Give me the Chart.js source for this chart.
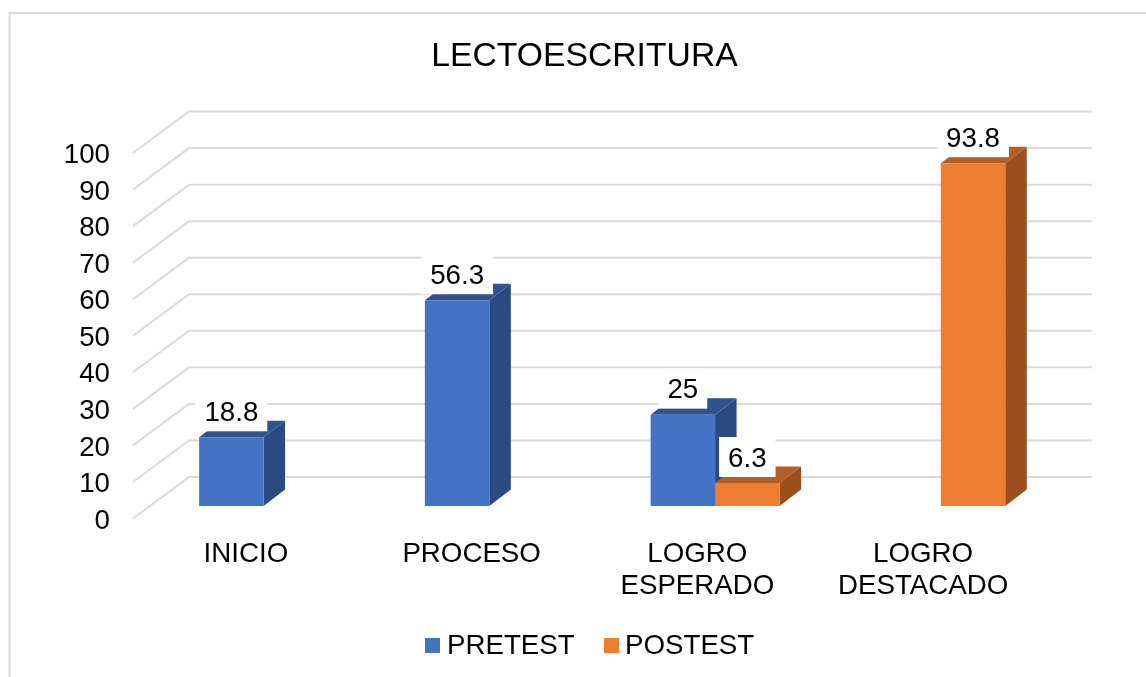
<!DOCTYPE html>
<html>
<head>
<meta charset="utf-8">
<title>LECTOESCRITURA</title>
<script src="https://cdn.jsdelivr.net/npm/chart.js@4"></script>
<style>
  html, body { margin: 0; padding: 0; background: #fff; overflow: hidden; }
  canvas { display: block; }
</style>
</head>
<body>
<canvas id="grafico" width="1146" height="677"></canvas>
<script>
// ====== Datos ======
const categorias = ['INICIO', 'PROCESO', ['LOGRO', 'ESPERADO'], ['LOGRO', 'DESTACADO']];
const pretest = [18.8, 56.3, 25, null];
const postest = [null, null, 6.3, 93.8];

const fuente = '"Liberation Sans", Arial, sans-serif';
const colorGrid = '#dadada';

// colores de cada serie: frente, tapa, lado
const azul = { frente: '#4472c4', tapa: '#30538f', lado: '#2a4a82' };
const naranja = { frente: '#ed7d31', tapa: '#b35e24', lado: '#9a4f1c' };

// ====== Efecto 3D ======
const pared = { dx: 56, dy: -41.5 };   // del plano frontal a la pared del fondo
const corrimiento = { dx: 17.7, dy: -12.5 }; // las barras van a media profundidad
const fondoBarra = { dx: 21.5, dy: -16.5 };

const efecto3d = {
    id: 'efecto3d',
    beforeDraw(chart) {
        const ctx = chart.ctx;
        ctx.save();
        ctx.strokeStyle = colorGrid;
        ctx.lineWidth = 2;
        ctx.beginPath();
        ctx.moveTo(9.5, 677);
        ctx.lineTo(9.5, 13);
        ctx.lineTo(1146, 13);
        ctx.stroke();
        ctx.restore();
    },
    beforeDatasetsDraw(chart) {
        // lineas de la pared, salen de los ticks del eje
        const { ctx, chartArea, scales } = chart;
        ctx.save();
        ctx.strokeStyle = colorGrid;
        ctx.lineWidth = 2;
        scales.y.ticks.forEach(t => {
            const y = scales.y.getPixelForValue(t.value);
            ctx.beginPath();
            ctx.moveTo(chartArea.left, y);
            ctx.lineTo(chartArea.left + pared.dx, y + pared.dy);
            ctx.lineTo(chartArea.right + pared.dx, y + pared.dy);
            ctx.stroke();
        });
        // lados y tapas, primero PRETEST y encima POSTEST
        ctx.translate(corrimiento.dx, corrimiento.dy);
        chart.data.datasets.forEach((ds, i) => {
            const colores = ds.colores3d;
            chart.getDatasetMeta(i).data.forEach((bar, j) => {
                if (ds.data[j] === null) return;
                const izq = bar.x - bar.width / 2;
                const der = bar.x + bar.width / 2;
                ctx.fillStyle = colores.lado;
                ctx.beginPath();
                ctx.moveTo(der, bar.y);
                ctx.lineTo(der + fondoBarra.dx, bar.y + fondoBarra.dy);
                ctx.lineTo(der + fondoBarra.dx, bar.base + fondoBarra.dy);
                ctx.lineTo(der, bar.base);
                ctx.closePath();
                ctx.fill();
                ctx.fillStyle = colores.tapa;
                ctx.beginPath();
                ctx.moveTo(izq, bar.y);
                ctx.lineTo(izq + fondoBarra.dx, bar.y + fondoBarra.dy);
                ctx.lineTo(der + fondoBarra.dx, bar.y + fondoBarra.dy);
                ctx.lineTo(der, bar.y);
                ctx.closePath();
                ctx.fill();
            });
        });
        ctx.restore();
    },
    beforeDatasetDraw(chart) {
        chart.ctx.save();
        chart.ctx.translate(corrimiento.dx, corrimiento.dy);
    },
    afterDatasetDraw(chart) {
        chart.ctx.restore();
    },
    afterDatasetsDraw(chart) {
        const ctx = chart.ctx;
        // etiquetas con fondo blanco
        ctx.save();
        ctx.font = '27.7px ' + fuente;
        ctx.textAlign = 'center';
        ctx.textBaseline = 'middle';
        chart.data.datasets.forEach((ds, i) => {
            chart.getDatasetMeta(i).data.forEach((bar, j) => {
                if (ds.data[j] === null) return;
                const texto = String(ds.data[j]);
                const x = bar.x + corrimiento.dx;
                const y = bar.y + corrimiento.dy - 26;
                const w = ctx.measureText(texto).width + 18;
                ctx.fillStyle = '#fff';
                ctx.fillRect(x - w / 2, y - 20, w, 40);
                ctx.fillStyle = '#000';
                ctx.fillText(texto, x, y + 2);
            });
        });
        // leyenda
        ctx.textAlign = 'left';
        const leyenda = [[425, 447], [604, 625]];
        chart.data.datasets.forEach((ds, i) => {
            ctx.fillStyle = ds.backgroundColor;
            ctx.fillRect(leyenda[i][0], 638, 15, 15);
            ctx.fillStyle = '#000';
            ctx.fillText(ds.label, leyenda[i][1], 646);
        });
        ctx.restore();
    }
};

// ====== Grafico ======
const ctxGrafico = document.getElementById('grafico').getContext('2d');
const grafico = new Chart(ctxGrafico, {
    type: 'bar',
    data: {
        labels: categorias,
        datasets: [
            { label: 'PRETEST', data: pretest, backgroundColor: azul.frente, colores3d: azul },
            { label: 'POSTEST', data: postest, backgroundColor: naranja.frente, colores3d: naranja }
        ]
    },
    options: {
        responsive: false,
        animation: false,
        layout: { padding: { left: 0, right: 110, top: 0, bottom: 0 } },
        datasets: { bar: { barPercentage: 1, categoryPercentage: 0.571, clip: false } },
        plugins: {
            legend: { display: false },
            tooltip: { enabled: false },
            title: {
                display: true,
                text: 'LECTOESCRITURA',
                fullSize: false,
                color: '#000',
                font: { family: fuente, size: 33.7, weight: 'normal', lineHeight: 1.2 },
                padding: { top: 36, bottom: 76.6 }
            }
        },
        scales: {
            x: {
                grid: { display: false },
                border: { display: false },
                afterFit(scale) { scale.height = 158.5; },
                ticks: {
                    color: '#000',
                    padding: 11.5,
                    maxRotation: 0,
                    autoSkip: false,
                    font: { family: fuente, size: 27.7, lineHeight: 1.17 }
                }
            },
            y: {
                min: 0,
                max: 100,
                grid: { display: false, drawTicks: false },
                border: { display: false },
                afterFit(scale) { scale.width = 133; },
                ticks: {
                    stepSize: 10,
                    color: '#000',
                    padding: 23,
                    labelOffset: 2.5,
                    font: { family: fuente, size: 27.7 }
                }
            }
        }
    },
    plugins: [efecto3d]
});
</script>
</body>
</html>
